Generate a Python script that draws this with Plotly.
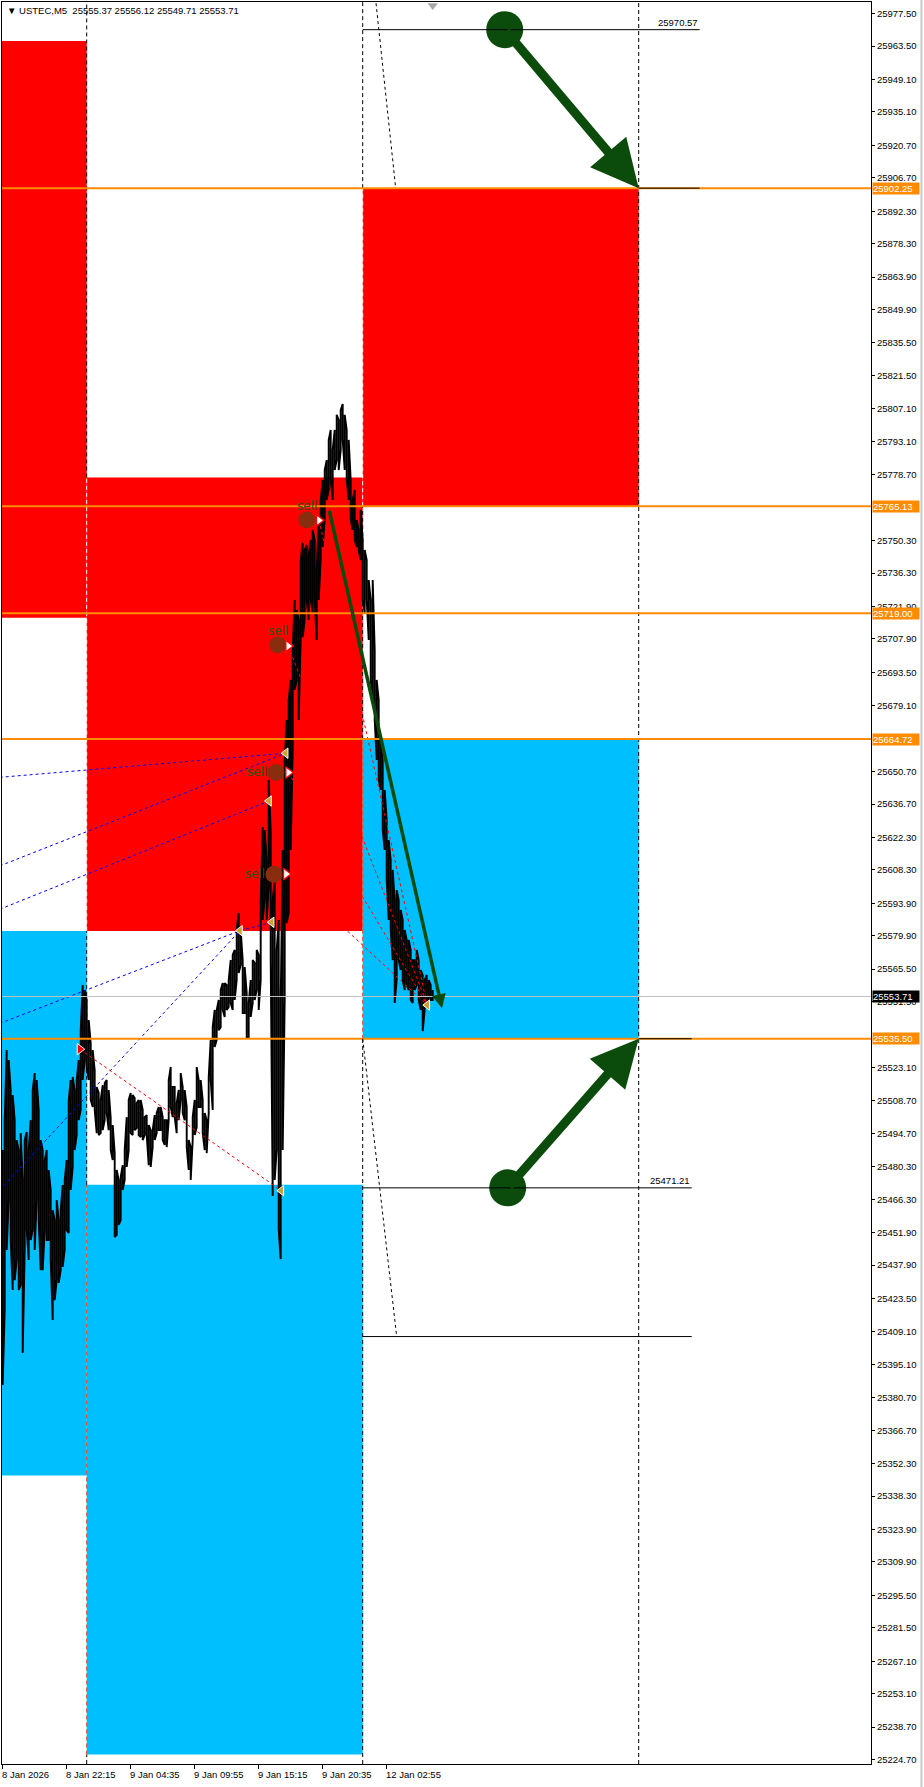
import plotly.graph_objects as go

# ---------------- data ----------------
header_text = "▼\u00a0USTEC,M5\u00a0\u00a025555.37\u00a025556.12\u00a025549.71\u00a025553.71"

time_tick_bars = [0, 64, 128, 192, 256, 320, 384]
time_tick_labels = ["8 Jan 2026", "8 Jan 22:15", "9 Jan 04:35", "9 Jan 09:55",
                    "9 Jan 15:15", "9 Jan 20:35", "12 Jan 02:55"]

price_ticks = [25977.50, 25963.50, 25949.10, 25935.10, 25920.70, 25906.70, 25892.30,
               25878.30, 25863.90, 25849.90, 25835.50, 25821.50, 25807.10, 25793.10,
               25778.70, 25750.30, 25736.30, 25721.90, 25707.90, 25693.50,
               25679.10, 25650.70, 25636.70, 25622.30, 25608.30, 25593.90,
               25579.90, 25565.50, 25551.50, 25523.10, 25508.70, 25494.70,
               25480.30, 25466.30, 25451.90, 25437.90, 25423.50, 25409.10, 25395.10,
               25380.70, 25366.70, 25352.30, 25338.30, 25323.90, 25309.90, 25295.50,
               25281.50, 25267.10, 25253.10, 25238.70, 25224.70]

# M5 bars (sampled every second bar): highs and lows
bar_high = [25487.5, 25500.4, 25530.6, 25526.3, 25513.4, 25511.2, 25500.4, 25491.8, 25487.5, 25494.8,
            25474.6, 25491.8, 25495.3, 25487.5, 25500.4, 25513.4, 25520.7, 25517.7, 25504.8, 25491.8,
            25487.5, 25483.2, 25487.5, 25478.9, 25470.3, 25461.6, 25457.3, 25465.9, 25457.3, 25461.6,
            25472.4, 25474.6, 25483.2, 25509.1, 25517.7, 25519.0, 25513.4, 25517.7, 25526.3, 25539.2,
            25558.7, 25556.5, 25552.2, 25543.6, 25533.6, 25530.6, 25522.0, 25514.7, 25512.1, 25509.1,
            25515.5, 25516.4, 25517.7, 25513.4, 25501.3, 25498.3, 25486.2, 25478.9, 25474.6, 25475.9,
            25481.0, 25487.5, 25501.7, 25509.1, 25512.1, 25511.2, 25509.9, 25507.8, 25509.1, 25509.1,
            25504.8, 25501.7, 25502.6, 25498.3, 25496.1, 25496.1, 25502.6, 25503.5, 25506.1, 25506.1,
            25501.7, 25500.4, 25500.4, 25517.7, 25523.3, 25514.7, 25514.7, 25507.8, 25513.4, 25520.7,
            25514.7, 25513.4, 25506.1, 25491.8, 25488.8, 25501.7, 25509.1, 25523.3, 25517.7, 25517.7,
            25509.1, 25503.5, 25500.4, 25519.0, 25535.0, 25540.5, 25547.9, 25547.9, 25552.2, 25556.5,
            25559.5, 25559.5, 25558.7, 25560.8, 25569.4, 25571.6, 25573.8, 25582.4, 25589.7, 25582.4,
            25569.4, 25566.4, 25555.2, 25550.9, 25560.8, 25569.4, 25568.2, 25573.8, 25571.6, 25595.3,
            25626.8, 25625.5, 25612.6, 25647.1, 25625.5, 25595.3, 25604.0, 25573.8, 25586.7, 25552.2,
            25616.9, 25655.7, 25672.9, 25681.5, 25690.2, 25703.1, 25724.7, 25720.4, 25716.1, 25741.9,
            25749.3, 25746.2, 25748.4, 25744.1, 25750.6, 25754.9, 25750.6, 25737.6, 25759.2, 25767.8,
            25776.4, 25780.7, 25785.0, 25793.7, 25798.0, 25789.4, 25798.0, 25804.5, 25802.3, 25806.6,
            25809.2, 25804.5, 25798.0, 25793.7, 25776.4, 25767.8, 25772.1, 25759.2, 25754.9, 25763.5,
            25750.6, 25746.2, 25741.9, 25733.3, 25724.7, 25733.3, 25703.1, 25690.2, 25681.5, 25664.3,
            25655.7, 25642.8, 25629.8, 25621.2, 25612.6, 25608.3, 25595.3, 25599.6, 25595.3, 25591.0,
            25586.7, 25582.4, 25578.1, 25578.1, 25573.8, 25569.4, 25569.4, 25573.8, 25569.4, 25565.1,
            25563.0, 25560.8, 25563.0, 25560.8, 25558.7, 25556.5]
bar_low = [25386.2, 25418.5, 25444.4, 25465.9, 25448.7, 25427.2, 25431.4, 25440.1, 25427.2, 25429.3,
           25400.0, 25444.4, 25453.0, 25440.1, 25448.7, 25453.0, 25444.4, 25465.9, 25457.3, 25435.7,
           25435.7, 25453.0, 25448.7, 25448.7, 25440.1, 25414.2, 25422.8, 25431.4, 25430.2, 25435.7,
           25437.1, 25444.4, 25453.0, 25451.7, 25470.3, 25480.2, 25487.5, 25494.0, 25500.4, 25504.8,
           25517.7, 25526.3, 25523.3, 25517.7, 25509.1, 25506.1, 25504.8, 25494.8, 25494.0, 25494.8,
           25496.1, 25500.4, 25503.5, 25496.1, 25487.5, 25483.2, 25450.0, 25450.9, 25455.2, 25457.3,
           25470.3, 25474.6, 25480.2, 25487.5, 25494.8, 25494.0, 25496.1, 25497.0, 25494.0, 25493.1,
           25491.8, 25494.0, 25494.0, 25481.0, 25480.2, 25488.8, 25491.8, 25494.8, 25496.1, 25496.1,
           25491.8, 25489.7, 25488.8, 25500.4, 25506.1, 25501.7, 25501.7, 25494.8, 25500.4, 25509.1,
           25503.5, 25500.4, 25488.8, 25478.9, 25474.6, 25491.8, 25494.0, 25497.4, 25506.1, 25506.1,
           25494.8, 25487.5, 25486.2, 25503.5, 25517.7, 25504.8, 25531.9, 25535.0, 25539.2, 25540.5,
           25547.9, 25544.9, 25547.9, 25549.2, 25550.9, 25547.9, 25552.2, 25560.8, 25563.8, 25567.3,
           25546.6, 25546.6, 25536.2, 25536.2, 25544.9, 25550.9, 25552.2, 25556.5, 25547.9, 25560.8,
           25586.7, 25595.3, 25586.7, 25600.9, 25569.4, 25467.7, 25474.6, 25487.5, 25453.0, 25440.5,
           25487.5, 25552.2, 25585.4, 25589.7, 25616.9, 25660.0, 25685.9, 25690.2, 25672.9, 25707.4,
           25708.7, 25716.1, 25724.7, 25716.1, 25724.7, 25719.1, 25724.7, 25707.4, 25724.7, 25741.9,
           25747.5, 25759.2, 25767.8, 25772.1, 25776.4, 25767.8, 25780.7, 25785.0, 25780.7, 25789.4,
           25793.7, 25780.7, 25776.4, 25767.8, 25759.2, 25754.9, 25750.6, 25747.5, 25746.2, 25741.9,
           25724.7, 25719.1, 25724.7, 25707.4, 25690.2, 25681.5, 25672.9, 25655.7, 25647.1, 25642.8,
           25625.5, 25616.9, 25604.0, 25586.7, 25582.4, 25569.4, 25550.9, 25560.8, 25569.4, 25565.1,
           25560.8, 25556.5, 25558.7, 25556.5, 25552.2, 25550.9, 25556.5, 25558.7, 25552.2, 25547.9,
           25538.8, 25547.9, 25550.0, 25550.0, 25552.2, 25552.2]
bar_step = 2
last_price = 25553.71

day_separators = [84, 360, 636]

# daily supply / demand zones
zone_x0 = [-10, -10, 84, 84, 360, 360]
zone_x1 = [84, 84, 360, 360, 636, 636]
zone_low = [25717.0, 25347.2, 25582.0, 25226.9, 25765.13, 25535.50]
zone_high = [25965.7, 25582.0, 25777.5, 25472.5, 25902.25, 25664.72]
zone_kind = ["supply", "demand", "supply", "demand", "supply", "demand"]

key_levels = [25902.25, 25765.13, 25719.00, 25664.72, 25535.50]

target_price = [25970.57, 25902.25, 25535.50, 25471.21, 25407.10]
target_x0 = [360, 636, 636, 360, 360]
target_x1 = [697, 697, 689, 689, 689]
target_label = ["25970.57", "", "", "25471.21", ""]

diag_start = [(360, 26036.0), (360, 25535.5)]
diag_end = [(393, 25902.25), (394, 25407.1)]

blue_start = [(-3, 25648.2), (-3, 25610.0), (-3, 25591.3), (-3, 25542.1), (237.3, 25582.1), (-3, 25470.3)]
blue_end = [(283, 25658.6), (283, 25658.6), (266.3, 25638.0), (237.3, 25582.1), (269, 25585.7), (237.3, 25582.1)]

fractal_bar = [283, 266.3, 269, 237.3, 278.7, 424.6]
fractal_price = [25658.6, 25638.0, 25585.7, 25582.1, 25470.0, 25550.0]

sell_circle_bar = [304, 275, 273.3, 271.3]
sell_circle_price = [25759.2, 25705.3, 25650.3, 25606.4]
sell_label_side = ["above", "above", "left", "left"]
sell_arrow_bar = [316.3, 285.6, 285.6, 283.3]
sell_arrow_price = [25759.0, 25704.8, 25650.3, 25606.5]
sell_exit = (424.6, 25550.0)

buy_arrow = (77, 25531.0)
buy_exit = (278.7, 25470.0)

big_arrow_tail = [(502, 25970.57), (505, 25471.21)]
big_arrow_head = [(636, 25902.25), (636, 25535.50)]
trend_arrow_tail = (326.3, 25763.8)
trend_arrow_head = (439.3, 25548.7)

# ---------------- styling ----------------
X_RANGE = [-0.7, 868.3]
Y_RANGE = [25222.8, 25982.5]
RED = "#FF0000"
BLUE = "#00BFFF"
ORANGE = "#FF8C00"
GREEN = "#0B4B0B"
FONT = "Liberation Sans, Arial, sans-serif"

fig = go.Figure()
shapes = []
annotations = []

# zones
for x0, x1, lo, hi, kind in zip(zone_x0, zone_x1, zone_low, zone_high, zone_kind):
    shapes.append(dict(type="rect", xref="x", yref="y", x0=x0, x1=x1, y0=lo, y1=hi,
                       fillcolor=RED if kind == "supply" else BLUE, line=dict(width=0), layer="below"))

# price bars as a zig-zag through highs and lows
bx, by = [], []
for i, (h, l) in enumerate(zip(bar_high, bar_low)):
    b = i * bar_step
    bx += [b, b]
    by += [h, l] if i % 2 == 0 else [l, h]
fig.add_trace(go.Scatter(x=bx, y=by, mode="lines", line=dict(color="black", width=1.9),
                         hoverinfo="skip"))

# blue dotted fractal lines
lx, ly = [], []
for (xa, ya), (xb, yb) in zip(blue_start, blue_end):
    lx += [xa, xb, None]
    ly += [ya, yb, None]
fig.add_trace(go.Scatter(x=lx, y=ly, mode="lines", line=dict(color="#0000FF", width=1, dash="3px,3px"),
                         hoverinfo="skip"))

# red dotted trade lines
rx, ry = [buy_arrow[0], buy_exit[0], None], [buy_arrow[1], buy_exit[1], None]
for xa, ya in zip(sell_arrow_bar, sell_arrow_price):
    rx += [xa, sell_exit[0], None]
    ry += [ya, sell_exit[1], None]
fig.add_trace(go.Scatter(x=rx, y=ry, mode="lines", line=dict(color="#FF0000", width=1, dash="3px,3px"),
                         hoverinfo="skip"))

# sell circles
fig.add_trace(go.Scatter(x=sell_circle_bar, y=sell_circle_price, mode="markers",
                         marker=dict(size=17, color="#8A2C0E", line=dict(width=0)), hoverinfo="skip"))
sell_font = dict(family="DejaVu Sans, sans-serif", size=12, color="#2A5510")
for xb, yp, side in zip(sell_circle_bar, sell_circle_price, sell_label_side):
    if side == "above":
        annotations.append(dict(x=xb, y=yp, xref="x", yref="y", text="sell", showarrow=False,
                                xanchor="center", yanchor="bottom", xshift=0, yshift=5, font=sell_font))
    else:
        annotations.append(dict(x=xb, y=yp, xref="x", yref="y", text="sell", showarrow=False,
                                xanchor="right", yanchor="middle", xshift=-7, yshift=0, font=sell_font))

# entry arrows
fig.add_trace(go.Scatter(x=sell_arrow_bar, y=sell_arrow_price, mode="markers",
                         marker=dict(symbol="triangle-right", size=10, color="white",
                                     line=dict(color="#FF0000", width=1.4)), hoverinfo="skip"))
fig.add_trace(go.Scatter(x=[buy_arrow[0]], y=[buy_arrow[1]], mode="markers",
                         marker=dict(symbol="triangle-right", size=10, color="#FF0000",
                                     line=dict(color="white", width=1)), hoverinfo="skip"))
# fractal / exit triangles
fig.add_trace(go.Scatter(x=fractal_bar, y=fractal_price, mode="markers",
                         marker=dict(symbol="triangle-left", size=9, color="#C9A232",
                                     line=dict(color="white", width=1)), hoverinfo="skip"))

# big arrow start circles
fig.add_trace(go.Scatter(x=[p[0] for p in big_arrow_tail], y=[p[1] for p in big_arrow_tail],
                         mode="markers", marker=dict(size=37, color=GREEN, line=dict(width=0)),
                         hoverinfo="skip"))

# small grey shift marker at top
fig.add_trace(go.Scatter(x=[430], y=[25981.0], mode="markers", cliponaxis=False,
                         marker=dict(symbol="triangle-down", size=9, color="#A8A8A8"), hoverinfo="skip"))

# day separators, coloured per the zone they cross
for s in day_separators:
    cuts = sorted((lo, hi, k) for x0, lo, hi, k in zip(zone_x0, zone_low, zone_high, zone_kind) if x0 == s)
    cur = Y_RANGE[0]
    segs = []
    for lo, hi, k in cuts:
        segs.append((cur, lo, "black"))
        segs.append((lo, hi, "white" if k == "supply" else "#F04020"))
        cur = hi
    segs.append((cur, Y_RANGE[1], "black"))
    for a, b, c in segs:
        shapes.append(dict(type="line", xref="x", yref="y", x0=s, x1=s, y0=a, y1=b,
                           line=dict(color=c, width=1, dash="4px,3px"), layer="above"))

# key orange levels
for lv in key_levels:
    shapes.append(dict(type="line", xref="paper", yref="y", x0=0, x1=1, y0=lv, y1=lv,
                       line=dict(color=ORANGE, width=2), layer="above"))
# current price line
shapes.append(dict(type="line", xref="paper", yref="y", x0=0, x1=1, y0=last_price, y1=last_price,
                   line=dict(color="#C0C0C0", width=1), layer="above"))

# target lines
for p, x0, x1, lab in zip(target_price, target_x0, target_x1, target_label):
    shapes.append(dict(type="line", xref="x", yref="y", x0=x0, x1=x1, y0=p, y1=p,
                       line=dict(color="black", width=1), layer="above"))
    if lab:
        annotations.append(dict(x=x1, y=p, xref="x", yref="y", text=lab, showarrow=False,
                                xanchor="right", yanchor="bottom", yshift=0,
                                font=dict(family=FONT, size=9.5, color="black")))

# dashed diagonals
for (xa, ya), (xb, yb) in zip(diag_start, diag_end):
    shapes.append(dict(type="line", xref="x", yref="y", x0=xa, y0=ya, x1=xb, y1=yb,
                       line=dict(color="black", width=1, dash="3px,3px"), layer="above"))

# green arrows
for (xa, ya), (xb, yb) in zip(big_arrow_tail, big_arrow_head):
    annotations.append(dict(x=xb, y=yb, ax=xa, ay=ya, xref="x", yref="y", axref="x", ayref="y",
                            text="", showarrow=True, arrowhead=2, arrowsize=1.05, arrowwidth=9,
                            arrowcolor=GREEN, standoff=0, startstandoff=0))
annotations.append(dict(x=trend_arrow_head[0], y=trend_arrow_head[1], ax=trend_arrow_tail[0],
                        ay=trend_arrow_tail[1], xref="x", yref="y", axref="x", ayref="y",
                        text="", showarrow=True, arrowhead=2, arrowsize=0.8, arrowwidth=3.5,
                        arrowcolor=GREEN, standoff=0, startstandoff=0))

# price tags on the axis
for lv in key_levels:
    annotations.append(dict(x=1, y=lv, xref="paper", yref="y", text=f"{lv:.2f}", showarrow=False,
                            xanchor="left", yanchor="middle", xshift=1, bgcolor=ORANGE,
                            width=46, height=11, align="left", borderpad=0,
                            font=dict(family=FONT, size=9.5, color="white")))
annotations.append(dict(x=1, y=last_price, xref="paper", yref="y", text=f"{last_price:.2f}",
                        showarrow=False, xanchor="left", yanchor="middle", xshift=1, bgcolor="black",
                        width=46, height=11, align="left", borderpad=0,
                        font=dict(family=FONT, size=9.5, color="white")))

# time labels (left aligned at ticks)
for b, lab in zip(time_tick_bars, time_tick_labels):
    annotations.append(dict(x=b, y=0, xref="x", yref="paper", text=lab, showarrow=False,
                            xanchor="left", yanchor="top", xshift=-3, yshift=-3,
                            font=dict(family=FONT, size=9.5, color="black")))

# header
annotations.append(dict(x=0, y=1, xref="paper", yref="paper", text=header_text, showarrow=False,
                        xanchor="left", yanchor="top", xshift=3, yshift=-1,
                        font=dict(family=FONT, size=9.5, color="black")))

# window frame on the right
shapes.append(dict(type="line", xref="paper", yref="paper", x0=1.0581, x1=1.0581, y0=-0.02, y1=1.01,
                   line=dict(color="#C8C8C8", width=2)))

fig.update_layout(
    width=924, height=1787,
    margin=dict(l=2, r=53, t=2, b=23),
    paper_bgcolor="white", plot_bgcolor="white",
    showlegend=False, hovermode=False,
    shapes=shapes, annotations=annotations,
    xaxis=dict(range=X_RANGE, showgrid=False, zeroline=False, showline=True, linecolor="black",
               linewidth=1, mirror=True, ticks="outside", ticklen=4, tickcolor="black",
               tickvals=time_tick_bars, showticklabels=False, fixedrange=True),
    yaxis=dict(range=Y_RANGE, side="right", showgrid=False, zeroline=False, showline=True,
               linecolor="black", linewidth=1, mirror=True, ticks="outside", ticklen=3,
               tickcolor="black", tickvals=price_ticks, ticktext=[f"{v:.2f}" for v in price_ticks],
               tickfont=dict(family=FONT, size=9.5, color="black"), fixedrange=True),
)

fig.write_html("out.html", config={"displayModeBar": False},
               post_script="document.body.style.margin='0px';document.body.style.padding='0px';")
